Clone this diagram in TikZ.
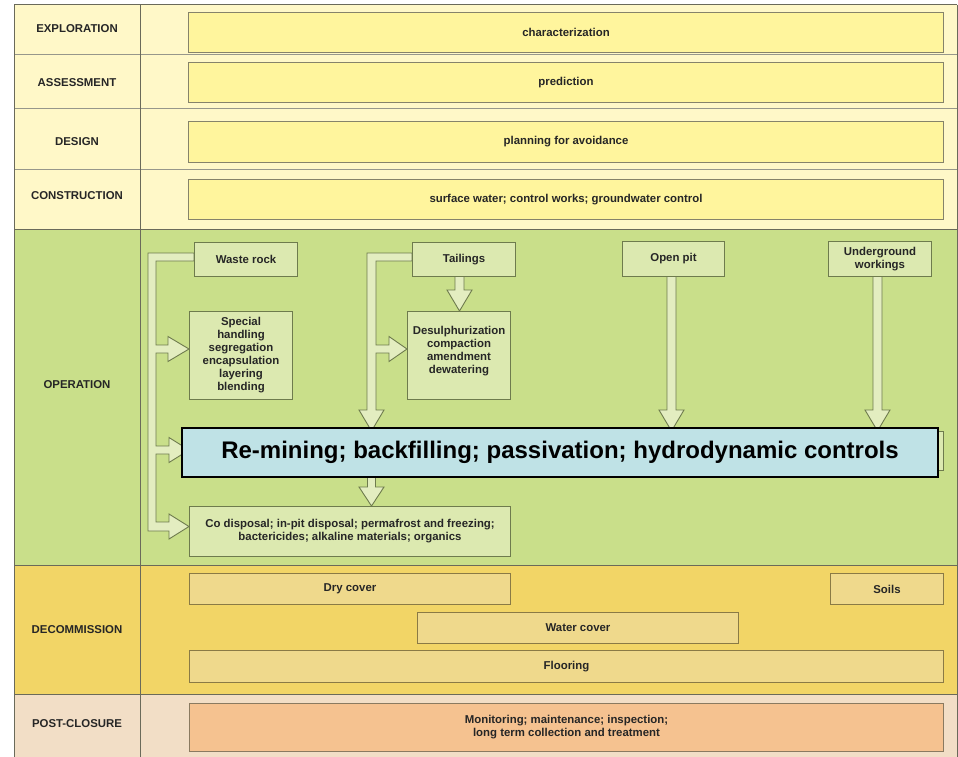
\documentclass[tikz,border=0pt]{standalone}
\usepackage{fontspec}
\setmainfont{Liberation Sans}
\begin{document}
\begin{tikzpicture}[x=1pt,y=-1pt,
  txt/.style={font=\fontsize{11.4}{13}\selectfont\bfseries, text=black!85, align=center, inner sep=0pt},
  topbox/.style={txt, draw=topline, fill=topfill, line width=1pt, anchor=north west},
  opbox/.style={txt, draw=opline, fill=opfill, line width=1pt, anchor=north west},
  decbox/.style={txt, draw=decline, fill=decfill, line width=1pt, anchor=north west},
  postbox/.style={txt, draw=postline, fill=postboxfill, line width=1pt, anchor=north west},
  blk/.style={draw=opline, fill=arrfill, line width=0.9pt, line join=miter},
  rowlab/.style={txt},
  tline/.style={draw=tablegray, line width=1pt}
]
\definecolor{topbg}{HTML}{FFF8C8}
\definecolor{topfill}{HTML}{FFF59D}
\definecolor{topline}{HTML}{86836A}
\definecolor{opbg}{HTML}{C9DF8A}
\definecolor{opfill}{HTML}{DCE9B0}
\definecolor{opline}{HTML}{6E7B4D}
\definecolor{arrfill}{HTML}{E3EDC0}
\definecolor{decbg}{HTML}{F2D566}
\definecolor{decfill}{HTML}{EFD98C}
\definecolor{decline}{HTML}{8A7A45}
\definecolor{postbg}{HTML}{F2DEC6}
\definecolor{postboxfill}{HTML}{F5C290}
\definecolor{postline}{HTML}{8A7A60}
\definecolor{tablegray}{HTML}{6A6A5A}
\definecolor{remfill}{HTML}{BFE2E6}

\useasboundingbox (0,0) rectangle (958,757);
\fill[white] (0,0) rectangle (958,757);

% row backgrounds
\fill[topbg] (14,5) rectangle (957,229);
\fill[opbg] (14,229) rectangle (957,565);
\fill[decbg] (14,565) rectangle (957,694);
\fill[postbg] (14,694) rectangle (957,757);

% table lines
\draw[tline, draw=tablegray!70] (14,55) -- (957,55) (14,109) -- (957,109) (14,169) -- (957,169);
\draw[tline] (14,229) -- (957,229) (14,565) -- (957,565) (14,694) -- (957,694);
\draw[tline] (14,5) -- (957,5);
\draw[tline] (14,5) -- (14,757) (140,5) -- (140,757) (957,5) -- (957,757);

% row labels
\node[rowlab] (lexp) at (77,29) {EXPLORATION};
\node[rowlab] (lass) at (77,83) {ASSESSMENT};
\node[rowlab] (ldes) at (77,142) {DESIGN};
\node[rowlab] (lcon) at (77,196) {CONSTRUCTION};
\node[rowlab] (lop) at (77,385) {OPERATION};
\node[rowlab] (ldec) at (77,630) {DECOMMISSION};
\node[rowlab] (lpost) at (77,724) {POST-CLOSURE};

% top boxes
\node[topbox, minimum width=755pt, minimum height=40pt] (expl) at (188,12) {characterization};
\node[topbox, minimum width=755pt, minimum height=40pt] (assess) at (188,62) {prediction};
\node[topbox, minimum width=755pt, minimum height=41pt] (design) at (188,121) {planning for avoidance};
\node[topbox, minimum width=755pt, minimum height=40pt] (constr) at (188,179) {surface water; control works; groundwater control};

% background box behind the highlighted one
\node[opbox, minimum width=755pt, minimum height=39pt] (behind) at (188,431) {};

% block arrows / pipes
\filldraw[blk] (194,253) -- (148,253) -- (148,531) -- (169,531) -- (169,539) -- (189,526.5) -- (169,514) -- (169,522)
  -- (156,522) -- (156,454) -- (169,454) -- (169,462.5) -- (189,450) -- (169,437.5) -- (169,446) -- (156,446)
  -- (156,353) -- (168,353) -- (168,361.5) -- (189,349) -- (168,336.5) -- (168,345) -- (156,345) -- (156,261) -- (194,261) -- cycle;
\filldraw[blk] (412,253) -- (367,253) -- (367,410) -- (359,410) -- (371.5,431) -- (384,410) -- (376,410)
  -- (376,353) -- (389,353) -- (389,361.5) -- (407,349) -- (389,336.5) -- (389,345) -- (376,345) -- (376,261) -- (412,261) -- cycle;
\filldraw[blk] (455,276) -- (455,290) -- (447,290) -- (459.5,311) -- (472,290) -- (464,290) -- (464,276) -- cycle;
\filldraw[blk] (667,276) -- (667,410) -- (659,410) -- (671.5,431) -- (684,410) -- (676,410) -- (676,276) -- cycle;
\filldraw[blk] (873,276) -- (873,410) -- (865,410) -- (877.5,431) -- (890,410) -- (882,410) -- (882,276) -- cycle;
\filldraw[blk] (367.5,470) -- (367.5,487) -- (359,487) -- (371.5,506) -- (384,487) -- (375.5,487) -- (375.5,470) -- cycle;

% operation boxes
\node[opbox, minimum width=103pt, minimum height=34pt] (waste) at (194,242) {Waste rock};
\node[opbox, minimum width=103pt, minimum height=34pt] (tail) at (412,242) {Tailings};
\node[opbox, minimum width=102pt, minimum height=35pt] (openpit) at (622,241) {Open pit};
\node[opbox, minimum width=103pt, minimum height=35pt] (under) at (828,241) {Underground\\workings};
\node[opbox, minimum width=103pt, minimum height=88pt] (special) at (189,311) {Special\\handling\\segregation\\encapsulation\\layering\\blending};
\node[opbox, minimum width=103pt, minimum height=88pt] (desulph) at (407,311) {Desulphurization\\compaction\\amendment\\dewatering\\[-1pt]};
\node[opbox, minimum width=321pt, minimum height=50pt] (codisp) at (189,506) {Co disposal; in-pit disposal; permafrost and freezing;\\bactericides; alkaline materials; organics};

% highlighted box
\node[draw=black, line width=2pt, fill=remfill, anchor=north west, minimum width=756pt, minimum height=49pt,
  inner sep=0pt, font=\fontsize{24}{27}\selectfont\bfseries, text=black] (remine) at (181,427)
  {Re-mining; backfilling; passivation; hydrodynamic controls};

% decommission
\node[decbox, minimum width=321pt, minimum height=31pt] (dry) at (189,573) {Dry cover};
\node[decbox, minimum width=113pt, minimum height=31pt] (soils) at (830,573) {Soils};
\node[decbox, minimum width=321pt, minimum height=31pt] (water) at (417,612) {Water cover};
\node[decbox, minimum width=754pt, minimum height=32pt] (floor) at (189,650) {Flooring};

% post-closure
\node[postbox, minimum width=754pt, minimum height=48pt] (post) at (189,703) {Monitoring; maintenance; inspection;\\long term collection and treatment};
\end{tikzpicture}
\end{document}
